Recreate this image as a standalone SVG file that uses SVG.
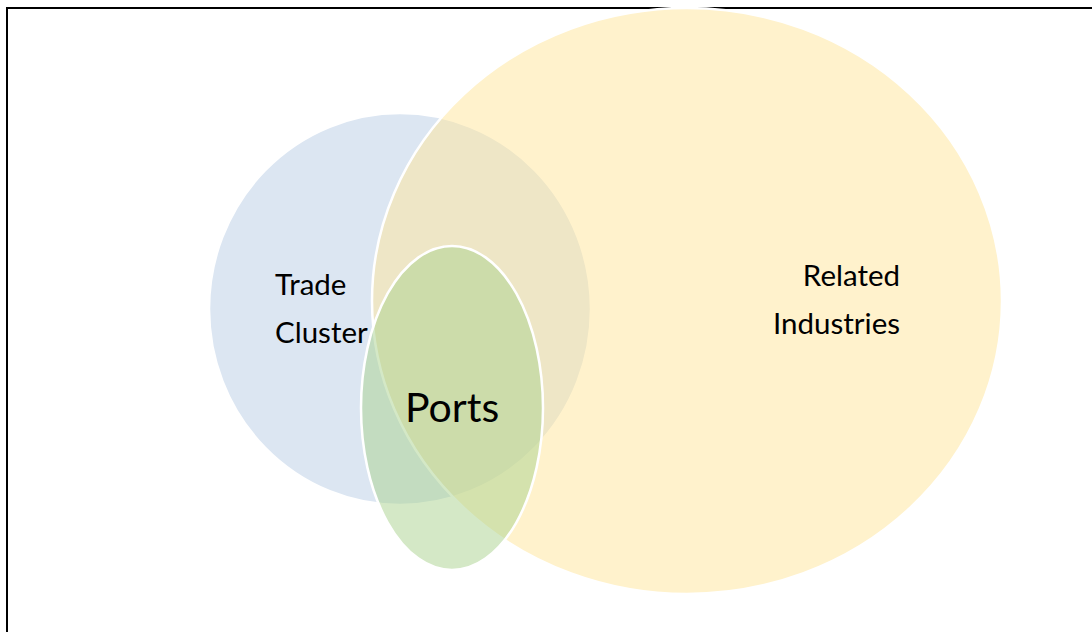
<svg xmlns="http://www.w3.org/2000/svg" width="1092" height="632" viewBox="0 0 1092 632">
<style>
.c{stroke:#fff;stroke-width:2.5;fill-opacity:0.5}
.t{font-family:Lato,"Liberation Sans",sans-serif;font-size:29.5px;fill:#000}
</style>
<rect width="1092" height="632" fill="#fff"/>
<path d="M7 632V8H1092" fill="none" stroke="#000" stroke-width="2"/>
<g id="trade-cluster">
<ellipse class="c" cx="400" cy="309" rx="191" ry="196" fill="#B9CDE5"/>
</g>
<g id="related-industries">
<ellipse class="c" cx="687" cy="301" rx="315" ry="293" fill="#FFE699"/>
</g>
<g id="ports">
<ellipse class="c" cx="452" cy="408" rx="91" ry="162" fill="#A9D18E"/>
</g>
<g id="labels">
<text class="t" x="275" y="295">Trade</text>
<text class="t" x="275" y="343">Cluster</text>
<text class="t" x="900" y="286" text-anchor="end">Related</text>
<text class="t" x="900" y="334" text-anchor="end">Industries</text>
<text class="t" x="405" y="422" style="font-size:41px">Ports</text>
</g>
<g id="connectors"/>
</svg>
